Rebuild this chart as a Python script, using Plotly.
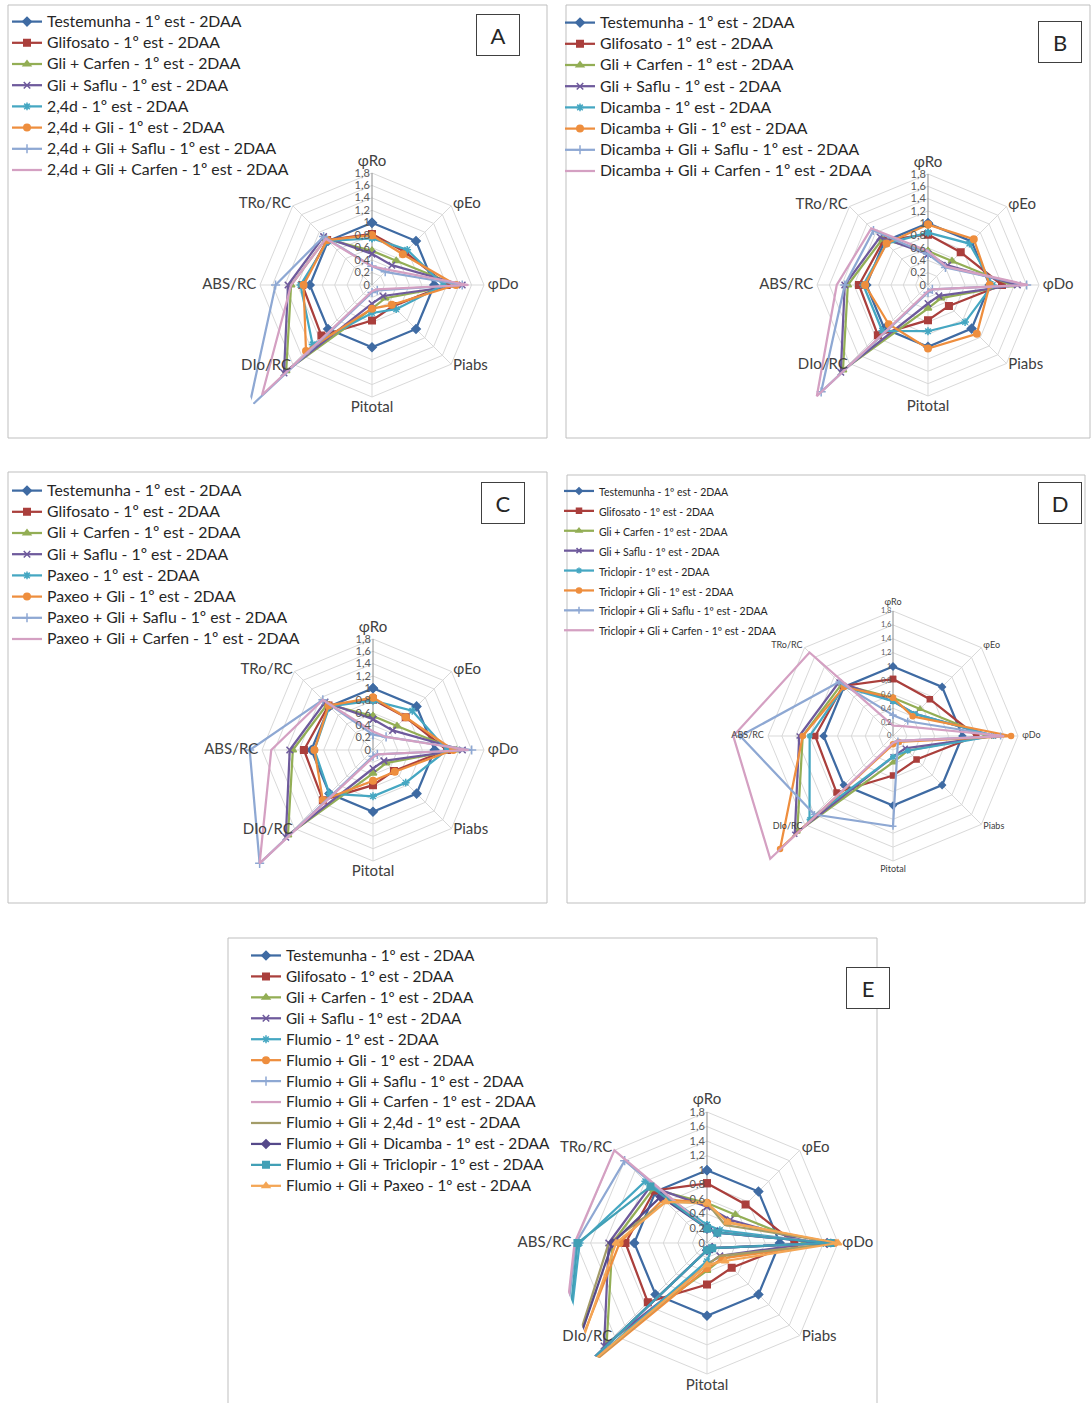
import plotly.graph_objects as go

W, H = 1092, 1403

# ---------------- data ----------------
axes_labels = ["φRo", "φEo", "φDo", "Piabs", "Pitotal", "DIo/RC", "ABS/RC", "TRo/RC"]
tick_vals = [0, 0.2, 0.4, 0.6, 0.8, 1.0, 1.2, 1.4, 1.6, 1.8]
tick_text = ["0", "0,2", "0,4", "0,6", "0,8", "1", "1,2", "1,4", "1,6", "1,8"]
axis_max = 1.8

# common treatments (order: φRo, φEo, φDo, Piabs, Pitotal, DIo/RC, ABS/RC, TRo/RC)
testemunha = [1.0, 1.0, 1.0, 1.0, 1.0, 1.0, 1.0, 1.0]
glifosato = [0.82, 0.75, 1.2, 0.48, 0.57, 1.15, 1.12, 1.02]
gli_carfen = [0.55, 0.55, 1.35, 0.3, 0.38, 1.95, 1.3, 1.05]
gli_saflu = [0.5, 0.45, 1.45, 0.25, 0.3, 2.0, 1.35, 1.1]

# panel A (2,4d)
a_names = ["2,4d", "2,4d + Gli", "2,4d + Gli + Saflu", "2,4d + Gli + Carfen"]
a_24d = [0.75, 0.8, 1.15, 0.55, 0.45, 1.35, 1.15, 1.0]
a_24d_gli = [0.8, 0.7, 1.35, 0.45, 0.38, 1.5, 1.1, 1.02]
a_24d_gli_saflu = [0.3, 0.3, 1.45, 0.12, 0.12, 2.8, 1.55, 1.1]
a_24d_gli_carfen = [0.3, 0.35, 1.55, 0.1, 0.1, 2.5, 1.3, 1.05]

# panel B (Dicamba)
b_names = ["Dicamba", "Dicamba + Gli", "Dicamba + Gli + Saflu", "Dicamba + Gli + Carfen"]
b_dicamba = [0.85, 0.95, 1.05, 0.85, 0.75, 1.05, 1.05, 0.95]
b_dicamba_gli = [0.98, 1.05, 1.0, 1.12, 1.03, 0.9, 1.02, 0.95]
b_dicamba_gli_saflu = [0.5, 0.4, 1.6, 0.1, 0.12, 2.45, 1.35, 1.25]
b_dicamba_gli_carfen = [0.55, 0.42, 1.62, 0.1, 0.1, 2.55, 1.48, 1.3]

# panel C (Paxeo)
c_names = ["Paxeo", "Paxeo + Gli", "Paxeo + Gli + Saflu", "Paxeo + Gli + Carfen"]
c_paxeo = [0.8, 0.9, 1.2, 0.75, 0.75, 1.0, 0.95, 1.0]
c_paxeo_gli = [0.85, 0.75, 1.3, 0.5, 0.5, 1.15, 0.95, 1.02]
c_paxeo_gli_saflu = [0.25, 0.3, 1.6, 0.1, 0.1, 2.6, 2.0, 1.15]
c_paxeo_gli_carfen = [0.3, 0.3, 1.55, 0.1, 0.12, 2.6, 1.65, 1.15]

# panel D (Triclopir)
d_names = ["Triclopir", "Triclopir + Gli", "Triclopir + Gli + Saflu", "Triclopir + Gli + Carfen"]
d_triclopir = [0.5, 0.45, 1.45, 0.3, 0.3, 1.7, 1.2, 1.0]
d_triclopir_gli = [0.55, 0.4, 1.7, 0.12, 0.12, 2.3, 1.3, 1.0]
d_triclopir_gli_saflu = [0.3, 0.3, 1.55, 0.1, 1.3, 1.6, 2.2, 1.1]
d_triclopir_gli_carfen = [0.15, 0.2, 1.6, 0.1, 0.1, 2.5, 2.3, 1.7]

# panel E (Flumio)
e_names = ["Flumio", "Flumio + Gli", "Flumio + Gli + Saflu", "Flumio + Gli + Carfen",
           "Flumio + Gli + 2,4d", "Flumio + Gli + Dicamba", "Flumio + Gli + Triclopir",
           "Flumio + Gli + Paxeo"]
e_flumio = [0.25, 0.25, 1.6, 0.1, 0.25, 2.8, 1.75, 1.2]
e_flumio_gli = [0.55, 0.4, 1.75, 0.3, 0.35, 2.8, 1.2, 0.85]
e_flumio_gli_saflu = [0.2, 0.2, 1.7, 0.1, 0.1, 2.9, 1.8, 1.6]
e_flumio_gli_carfen = [0.2, 0.2, 1.75, 0.1, 0.1, 2.9, 1.82, 1.8]
e_flumio_gli_24d = [0.55, 0.35, 1.8, 0.25, 0.3, 2.8, 1.35, 0.8]
e_flumio_gli_dicamba = [0.2, 0.2, 1.65, 0.1, 0.1, 2.8, 1.3, 0.9]
e_flumio_gli_triclopir = [0.2, 0.2, 1.7, 0.1, 0.1, 2.8, 1.78, 1.1]
e_flumio_gli_paxeo = [0.55, 0.4, 1.8, 0.35, 0.3, 2.7, 1.25, 0.8]

# ---------------- styles ----------------
colors = ["#3F6BA3", "#AA3F3C", "#93AE55", "#6E5A9C", "#45A7C2", "#EE8E3E",
          "#8EA8D3", "#D4A0C2", "#A39C68", "#55498A", "#42A0B6", "#F4A655"]
symbols = ["diamond", "square", "triangle-up", "x-thin-open", "asterisk-open", "circle",
           "cross-thin-open", None, None, "diamond", "square", "triangle-up"]
label_pos = ["top center", "middle right", "middle right", "middle right",
             "bottom center", "middle left", "middle left", "middle left"]
label_r = [1.86, 1.84, 1.86, 1.84, 1.86, 1.84, 1.86, 1.84]

suffix = " - 1º est - 2DAA"
common_names = ["Testemunha", "Glifosato", "Gli + Carfen", "Gli + Saflu"]
common_vals = [testemunha, glifosato, gli_carfen, gli_saflu]

panels = [
    dict(key="A", names=common_names + a_names,
         vals=common_vals + [a_24d, a_24d_gli, a_24d_gli_saflu, a_24d_gli_carfen],
         box=(8, 5, 547, 438), center=(372, 285), R=112, rmax=2.7, lab=(498, 35),
         leg=(7, 6), lfs=14, fs=15.8, tick_fs=11, ang_fs=15),
    dict(key="B", names=common_names + b_names,
         vals=common_vals + [b_dicamba, b_dicamba_gli, b_dicamba_gli_saflu, b_dicamba_gli_carfen],
         box=(566, 5, 1090, 438), center=(928, 285), R=111, rmax=2.6, lab=(1060, 42),
         leg=(560, 7), lfs=14, fs=15.8, tick_fs=11, ang_fs=15),
    dict(key="C", names=common_names + c_names,
         vals=common_vals + [c_paxeo, c_paxeo_gli, c_paxeo_gli_saflu, c_paxeo_gli_carfen],
         box=(8, 472, 547, 903), center=(373, 750), R=111, rmax=2.7, lab=(503, 503),
         leg=(7, 475), lfs=14, fs=15.8, tick_fs=11, ang_fs=15),
    dict(key="D", names=common_names + d_names,
         vals=common_vals + [d_triclopir, d_triclopir_gli, d_triclopir_gli_saflu, d_triclopir_gli_carfen],
         box=(567, 475, 1085, 903), center=(893, 736), R=125, rmax=2.6, lab=(1060, 503),
         leg=(559, 476), lfs=13, fs=10.5, tick_fs=7.5, ang_fs=9),
    dict(key="E", names=common_names + e_names,
         vals=common_vals + [e_flumio, e_flumio_gli, e_flumio_gli_saflu, e_flumio_gli_carfen,
                             e_flumio_gli_24d, e_flumio_gli_dicamba, e_flumio_gli_triclopir,
                             e_flumio_gli_paxeo],
         box=(228, 938, 877, 1410), center=(707, 1243), R=131, rmax=2.19, lab=(868, 988),
         leg=(246, 940), lfs=13.8, fs=15.3, tick_fs=11, ang_fs=15),
]

fig = go.Figure()
layout = dict(width=W, height=H, margin=dict(l=0, r=0, t=0, b=0),
              paper_bgcolor="white", plot_bgcolor="white", showlegend=True)
shapes = []
annotations = []

for k, p in enumerate(panels):
    pid = "" if k == 0 else str(k + 1)
    subplot = "polar" + pid
    legname = "legend" + pid
    cx, cy = p["center"]
    scale = p["R"] / axis_max
    Rfull = scale * p["rmax"]

    # spokes (axis lines) from 0 to the outer ring
    sp_r, sp_t = [], []
    for lab in axes_labels[1:]:
        sp_r += [0, axis_max, None]
        sp_t += [lab, lab, lab]
    fig.add_trace(go.Scatterpolar(r=sp_r, theta=sp_t, mode="lines", subplot=subplot,
                                  line=dict(color="#D9D9D9", width=1), showlegend=False,
                                  hoverinfo="skip", legend=legname))
    fig.add_trace(go.Scatterpolar(r=[0, axis_max], theta=[axes_labels[0]] * 2, mode="lines",
                                  subplot=subplot, line=dict(color="#8C8C8C", width=1),
                                  showlegend=False, hoverinfo="skip", legend=legname))

    for i, (nm, v) in enumerate(zip(p["names"], p["vals"])):
        sym = symbols[i]
        col = colors[i]
        label = '<span style="font-size:%gpx">%s</span>' % (p["fs"], nm + suffix)
        tr = dict(
            r=v + [v[0]], theta=axes_labels + [axes_labels[0]],
            name=label, subplot=subplot, legend=legname,
            line=dict(color=col, width=2.25), cliponaxis=False,
        )
        if sym:
            tr["mode"] = "lines+markers"
            tr["marker"] = dict(symbol=sym, size=6.5 if p["key"] != "D" else 5, color=col,
                                line=dict(width=1.5, color=col))
        else:
            tr["mode"] = "lines"
        fig.add_trace(go.Scatterpolar(**tr))

    # category labels
    fig.add_trace(go.Scatterpolar(r=label_r, theta=axes_labels, text=axes_labels, mode="text",
                                  textposition=label_pos, subplot=subplot, showlegend=False,
                                  hoverinfo="skip", cliponaxis=False, legend=legname,
                                  textfont=dict(size=p["ang_fs"], color="#404040", family="Lato")))

    layout[subplot] = dict(
        domain=dict(x=[(cx - Rfull) / W, (cx + Rfull) / W],
                    y=[1 - (cy + Rfull) / H, 1 - (cy - Rfull) / H]),
        gridshape="linear", bgcolor="rgba(0,0,0,0)",
        radialaxis=dict(range=[0, p["rmax"]], tickvals=tick_vals, ticktext=tick_text, angle=90,
                        side="counterclockwise", tickangle=90, showline=False,
                        gridcolor="#D9D9D9",
                        tickfont=dict(size=p["tick_fs"], color="#595959", family="Lato"),
                        ticks=""),
        angularaxis=dict(type="category", categoryarray=axes_labels, direction="clockwise",
                         rotation=90, showgrid=False, showline=False, showticklabels=False,
                         ticks=""),
    )
    lx, ly = p["leg"]
    layout[legname] = dict(
        x=lx / W, y=1 - ly / H, xanchor="left", yanchor="top",
        bgcolor="rgba(0,0,0,0)", itemwidth=30, tracegroupgap=0,
        font=dict(size=p["lfs"], color="#262626", family="Lato"),
    )
    x0, y0, x1, y1 = p["box"]
    shapes.append(dict(type="rect", xref="paper", yref="paper",
                       x0=x0 / W, x1=x1 / W, y0=1 - y0 / H, y1=1 - y1 / H,
                       line=dict(color="#BFBFBF", width=1)))
    lxc, lyc = p["lab"]
    annotations.append(dict(text=p["key"], x=lxc / W, y=1 - lyc / H, xref="paper", yref="paper",
                            xanchor="center", yanchor="middle",
                            showarrow=False, font=dict(size=22, color="#262626", family="Lato"),
                            width=38, height=36, bordercolor="#404040", borderwidth=1,
                            borderpad=2, bgcolor="white"))

layout["shapes"] = shapes
layout["annotations"] = annotations
fig.update_layout(**layout)
fig.write_html("out.html")
